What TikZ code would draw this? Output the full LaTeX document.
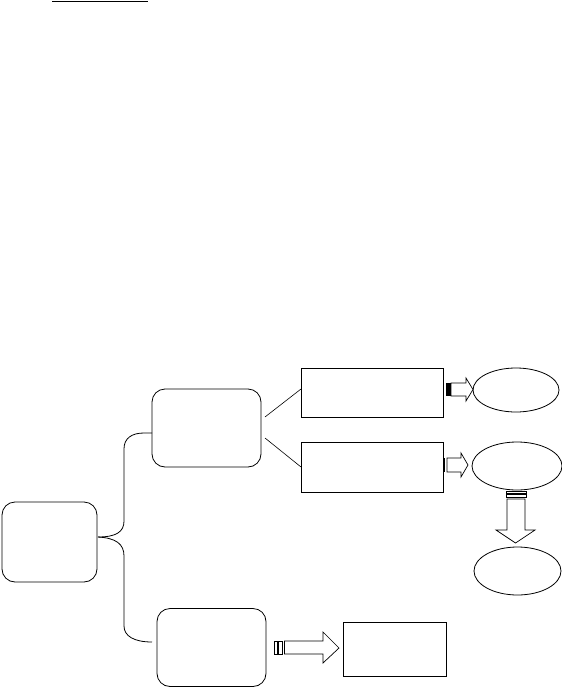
\documentclass[tikz,border=0pt]{standalone}
\usetikzlibrary{shapes.geometric}
\begin{document}
\begin{tikzpicture}[x=1pt,y=-1pt,line width=0.8pt,
  rbox/.style={draw,rectangle,rounded corners=13pt,inner sep=0pt},
  sbox/.style={draw,rectangle,inner sep=0pt},
  oval/.style={draw,ellipse,inner sep=0pt},
  blockarrow/.style={draw,fill=white,line width=0.7pt}]
\useasboundingbox (0,0) rectangle (562,688);
% top rule
\draw[line width=1.2pt] (52,1.5) -- (148,1.5);
% nodes
\node[rbox,minimum width=95pt,minimum height=80pt] (root) at (49.5,542) {};
\node[rbox,minimum width=109pt,minimum height=78pt] (B) at (206.5,428) {};
\node[rbox,minimum width=109pt,minimum height=78pt] (C) at (211.5,647.5) {};
\node[sbox,minimum width=142pt,minimum height=49pt] (D1) at (372,392.5) {};
\node[sbox,minimum width=142pt,minimum height=50pt] (D2) at (372,467) {};
\node[sbox,minimum width=103pt,minimum height=54pt] (F) at (394.5,649) {};
\node[oval,minimum width=86pt,minimum height=44pt] (E1) at (516,390) {};
\node[oval,minimum width=90pt,minimum height=48pt] (E2) at (517,466) {};
\node[oval,minimum width=87pt,minimum height=48pt] (E3) at (517.5,571) {};
% brace connector
\coordinate (j) at (98,537);
\coordinate (bt) at (152,433);
\coordinate (bb) at (152,642);
\draw (j) .. controls (116,537) and (124,532) .. (124,521) -- (124,449)
      .. controls (124,438) and (132,433) .. (144,433) -- (bt);
\draw (j) .. controls (116,538) and (124,544) .. (124,556) -- (124,626)
      .. controls (124,636) and (134,642) .. (bb);
% lines B -> D1, D2
\coordinate (b1) at (265,417);
\coordinate (b2) at (265,438);
\draw[line width=0.6pt] (b1) -- (301,389);
\draw[line width=0.6pt] (b2) -- (301,467);
% arrow D1 -> E1
\draw[blockarrow] (451,383) -- (466,383) -- (466,378) -- (473,389.5) -- (466,401) -- (466,396) -- (451,396) -- cycle;
\fill (446,383) rectangle (451,396);
% arrow D2 -> E2
\draw[blockarrow] (447,458) -- (461,458) -- (461,453) -- (468,465) -- (461,477) -- (461,472) -- (447,472) -- cycle;
\fill (443.5,458) rectangle (445.3,472);
% arrow E2 -> E3
\draw[line width=0.7pt] (506,491) rectangle (526,497);
\draw[line width=1.4pt] (506,494) -- (526,494);
\draw[blockarrow] (507,499) -- (507,530) -- (496,530) -- (515.5,543) -- (535,530) -- (525,530) -- (525,499) -- cycle;
% arrow C -> F
\draw[line width=0.7pt] (274,641) rectangle (277,654);
\draw[line width=0.7pt] (278.5,641) rectangle (282.5,654);
\draw[blockarrow] (284.5,641) -- (323,641) -- (323,632) -- (339,648) -- (323,663) -- (323,654) -- (284.5,654) -- cycle;
\end{tikzpicture}
\end{document}
